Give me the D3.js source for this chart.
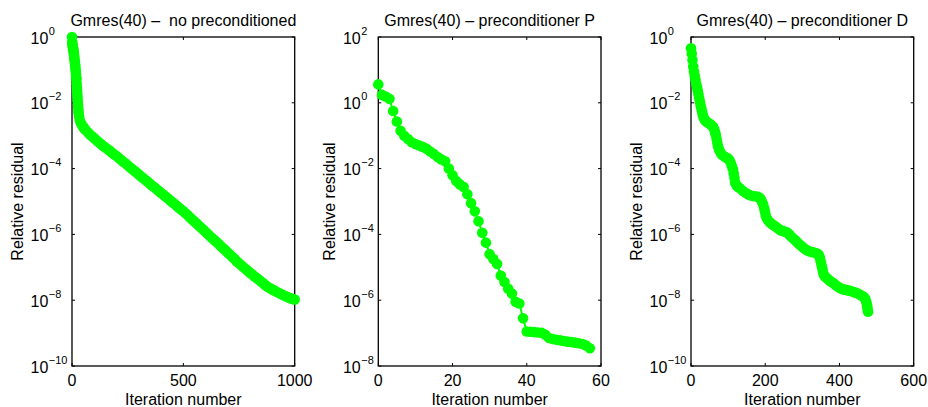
<!DOCTYPE html>
<html><head><meta charset="utf-8">
<script src="https://cdn.jsdelivr.net/npm/d3@7"></script>
<style>
body{margin:0;background:#fff}
svg{display:block;font-family:"Liberation Sans",Arial,Helvetica,sans-serif}
</style>
</head><body>
<svg id="chart" width="928" height="407"></svg>
<script>
// ---------- data ----------
const titles = ["Gmres(40) \u2013  no preconditioned", "Gmres(40) \u2013 preconditioner P", "Gmres(40) \u2013 preconditioner D"];
const xLabel = "Iteration number";
const yLabel = "Relative residual";
const xDomains = [[0, 1000], [0, 60], [0, 600]];
const xTicks = [[0, 500, 1000], [0, 20, 40, 60], [0, 200, 400, 600]];
const yTickExps = [[0, -2, -4, -6, -8, -10], [2, 0, -2, -4, -6, -8], [0, -2, -4, -6, -8, -10]];

// panel 1: no preconditioner (iteration, log10 of relative residual)
const iterA = [0,1,2,3,4,5,6,7,8,9,10,11,12,13,14,15,16,17,18,19,20,21,22,23,24,25,26,27,28,29,30,32,35,40,45,50,55,
  60,70,80,90,100,110,120,130,140,150,160,170,180,190,200,210,220,230,240,250,260,270,280,290,
  300,310,320,330,340,350,360,370,380,390,400,410,420,430,440,450,460,470,480,490,
  500,510,520,530,540,550,560,570,580,590,600,610,620,630,640,650,660,670,680,690,
  700,710,720,730,740,750,760,770,780,790,800,810,820,830,840,850,860,870,880,890,
  900,910,920,930,940,950,960,970,980,990,1000];
const logResA = [0,-0.15,-0.22,-0.27,-0.31,-0.35,-0.39,-0.43,-0.48,-0.54,-0.6,-0.66,-0.72,-0.78,-0.84,-0.9,-0.98,-1.06,-1.14,-1.22,-1.3,-1.42,-1.54,-1.65,-1.75,-1.85,-1.95,-2.05,-2.15,-2.25,-2.32,-2.42,-2.53,-2.62,-2.68,-2.73,-2.78,
  -2.82,-2.89,-2.96,-3.02,-3.08,-3.14,-3.2,-3.25,-3.31,-3.36,-3.41,-3.46,-3.52,-3.57,-3.62,-3.68,-3.73,-3.79,-3.84,-3.9,-3.96,-4.01,-4.07,-4.12,
  -4.18,-4.24,-4.29,-4.35,-4.4,-4.46,-4.52,-4.57,-4.63,-4.68,-4.74,-4.79,-4.85,-4.9,-4.96,-5.02,-5.07,-5.13,-5.19,-5.24,
  -5.3,-5.36,-5.42,-5.49,-5.55,-5.61,-5.67,-5.74,-5.8,-5.86,-5.93,-5.99,-6.06,-6.12,-6.18,-6.24,-6.3,-6.37,-6.43,-6.49,
  -6.56,-6.62,-6.69,-6.75,-6.82,-6.88,-6.94,-7.0,-7.05,-7.11,-7.17,-7.22,-7.28,-7.33,-7.38,-7.44,-7.49,-7.55,-7.6,-7.64,
  -7.68,-7.71,-7.75,-7.78,-7.82,-7.85,-7.88,-7.91,-7.94,-7.96,-7.98];

// panel 2: preconditioner P
const iterB = [0,1,2,3,4,5,6,7,8,9,10,11,12,13,14,15,16,17,18,19,20,21,22,23,24,25,26,27,28,29,
  30,31,32,33,34,35,36,37,38,39,40,41,42,43,44,45,46,47,48,49,50,51,52,53,54,55,56,57];
const logResB = [0.56,0.24,0.19,0.12,-0.25,-0.57,-0.85,-1.0,-1.1,-1.2,-1.25,-1.3,-1.34,-1.4,-1.48,-1.56,-1.65,-1.72,-1.78,-2.0,
  -2.2,-2.38,-2.48,-2.56,-2.78,-3.05,-3.3,-3.6,-3.95,-4.25,-4.6,-4.75,-4.9,-5.25,-5.45,-5.65,-5.8,-6.05,-6.1,-6.55,
  -6.95,-6.96,-6.97,-6.98,-6.99,-7.05,-7.15,-7.18,-7.2,-7.22,-7.24,-7.26,-7.27,-7.29,-7.31,-7.33,-7.38,-7.46];

// panel 3: preconditioner D
const iterC = [0,2,4,6,8,10,12,14,16,18,20,22,24,26,28,30,32,34,37,40,44,48,52,56,60,63,65,67,69,71,73,76,79,83,88,94,100,
  104,107,110,113,115,117,119,122,126,132,140,148,155,162,170,178,184,188,191,194,197,199,201,204,208,213,218,224,230,236,242,248,254,259,
  263,267,271,276,281,286,291,296,302,308,314,320,327,334,340,344,347,349,351,353,355,357,360,364,368,373,378,383,388,393,398,
  403,409,415,421,427,433,438,443,448,453,458,463,467,470,472,474,475,476,477];
const logResC = [-0.34,-0.5,-0.7,-0.9,-1.05,-1.18,-1.3,-1.42,-1.52,-1.62,-1.74,-1.86,-1.97,-2.08,-2.18,-2.28,-2.38,-2.45,-2.52,-2.56,-2.59,-2.62,-2.65,-2.69,-2.74,-2.82,-2.9,-2.98,-3.1,-3.22,-3.33,-3.43,-3.5,-3.57,-3.62,-3.66,-3.69,
  -3.75,-3.83,-3.92,-4.02,-4.14,-4.28,-4.42,-4.5,-4.55,-4.6,-4.68,-4.74,-4.79,-4.82,-4.84,-4.85,-4.88,-4.93,-5.0,-5.08,-5.2,-5.3,-5.4,-5.51,-5.58,-5.64,-5.69,-5.73,-5.78,-5.83,-5.88,-5.9,-5.92,-5.94,
  -5.98,-6.03,-6.08,-6.13,-6.18,-6.24,-6.29,-6.34,-6.4,-6.45,-6.49,-6.52,-6.54,-6.56,-6.58,-6.62,-6.7,-6.8,-6.9,-7.0,-7.1,-7.2,-7.27,-7.31,-7.35,-7.4,-7.44,-7.48,-7.52,-7.57,-7.61,
  -7.64,-7.67,-7.68,-7.7,-7.71,-7.73,-7.75,-7.77,-7.79,-7.82,-7.85,-7.88,-7.92,-7.98,-8.05,-8.13,-8.2,-8.28,-8.35];

const seriesIters = [iterA, iterB, iterC];
const seriesLogRes = [logResA, logResB, logResC];

// ---------- layout ----------
const svg = d3.select("#chart");
const lefts = [72, 378.3, 691];
const plotW = 222.7, plotTop = 37, plotBottom = 366;
const green = "#00ff00";
const tickLen = 3;

titles.forEach((title, p) => {
  const L = lefts[p], R = L + plotW;
  const eTop = yTickExps[p][0], eBot = yTickExps[p][yTickExps[p].length - 1];
  const x = d3.scaleLinear().domain(xDomains[p]).range([L, R]);
  const y = d3.scaleLog().domain([10 ** eBot, 10 ** eTop]).range([plotBottom, plotTop]);
  const g = svg.append("g");

  // box
  g.append("rect").attr("x", L).attr("y", plotTop).attr("width", plotW).attr("height", plotBottom - plotTop)
    .attr("fill", "none").attr("stroke", "#000").attr("stroke-width", 1.3);

  // x ticks (bottom + top, inward)
  xTicks[p].forEach(t => {
    const xx = x(t);
    g.append("line").attr("x1", xx).attr("x2", xx).attr("y1", plotBottom).attr("y2", plotBottom - tickLen).attr("stroke", "#000").attr("stroke-width", 1);
    g.append("line").attr("x1", xx).attr("x2", xx).attr("y1", plotTop).attr("y2", plotTop + tickLen).attr("stroke", "#000").attr("stroke-width", 1);
    g.append("text").attr("x", xx).attr("y", plotBottom + 20).attr("text-anchor", "middle")
      .attr("font-size", 16).attr("fill", "#000").text(t);
  });

  // y ticks
  const labels = [];
  yTickExps[p].forEach(e => {
    const yy = y(10 ** e);
    g.append("line").attr("x1", L).attr("x2", L + tickLen).attr("y1", yy).attr("y2", yy).attr("stroke", "#000").attr("stroke-width", 1);
    g.append("line").attr("x1", R).attr("x2", R - tickLen).attr("y1", yy).attr("y2", yy).attr("stroke", "#000").attr("stroke-width", 1);
    const base = g.append("text").attr("y", yy + 6.5).attr("font-size", 16).attr("fill", "#000").text("10");
    const sup = g.append("text").attr("y", yy - 2.5).attr("font-size", 11).attr("fill", "#000")
      .text(e < 0 ? "\u2212" + Math.abs(e) : String(e));
    labels.push({ base, sup });
  });
  const baseW = labels[0].base.node().getComputedTextLength();
  const maxW = d3.max(labels, l => baseW + 0.5 + l.sup.node().getComputedTextLength());
  const start = L - 4.5 - maxW;
  labels.forEach(l => {
    l.base.attr("x", start);
    l.sup.attr("x", start + baseW + 0.5);
  });

  // title
  g.append("text").attr("x", (L + R) / 2).attr("y", 25.5).attr("text-anchor", "middle")
    .attr("font-size", 16).attr("fill", "#000").style("white-space", "pre").text(title);
  // x label
  g.append("text").attr("x", (L + R) / 2).attr("y", 405).attr("text-anchor", "middle")
    .attr("font-size", 16).attr("fill", "#000").text(xLabel);
  // y label
  const ylx = start - 8, yly = (plotTop + plotBottom) / 2;
  g.append("text").attr("transform", `translate(${ylx},${yly}) rotate(-90)`).attr("text-anchor", "middle")
    .attr("font-size", 16).attr("fill", "#000").text(yLabel);

  // data
  const pts = seriesIters[p].map((it, i) => [it, 10 ** seriesLogRes[p][i]]);
  const line = d3.line().x(d => x(d[0])).y(d => y(d[1]));
  g.append("path").attr("d", line(pts)).attr("fill", "none").attr("stroke", green).attr("stroke-width", 2);
  g.selectAll("circle.m").data(pts).enter().append("circle").attr("class", "m")
    .attr("cx", d => x(d[0])).attr("cy", d => y(d[1])).attr("r", 5.3).attr("fill", green);
});
</script>
</body></html>
